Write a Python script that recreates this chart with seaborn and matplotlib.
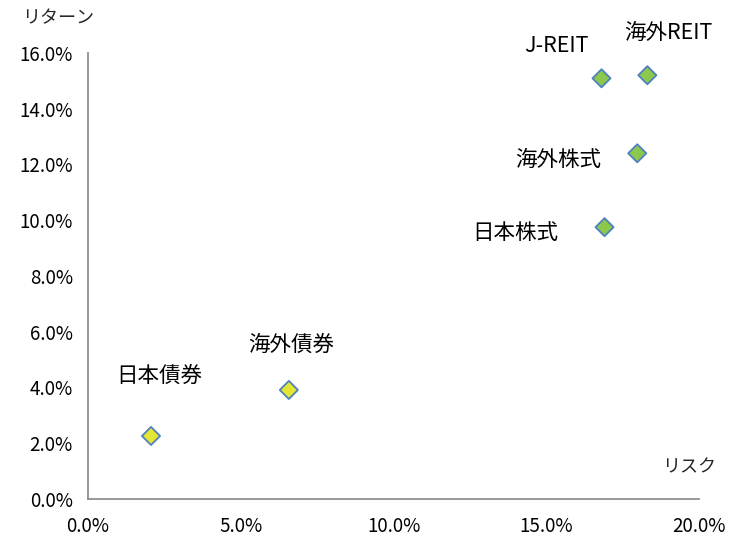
import matplotlib
matplotlib.use("Agg")
import matplotlib.pyplot as plt
import seaborn as sns
import pandas as pd
from matplotlib.ticker import FuncFormatter, MultipleLocator

assets = ["日本債券", "海外債券", "J-REIT", "海外REIT", "海外株式", "日本株式"]
risk = [2.06, 6.57, 16.8, 18.3, 17.97, 16.9]
ret = [2.26, 3.91, 15.09, 15.2, 12.4, 9.75]
kind = ["債券", "債券", "その他", "その他", "その他", "その他"]

df = pd.DataFrame({"asset": assets, "risk": risk, "ret": ret, "kind": kind})

sns.set_theme(style="white")
plt.rcParams["font.family"] = ["Noto Sans CJK JP", "DejaVu Sans"]

fig = plt.figure(figsize=(7.4, 5.4), dpi=100)
ax = fig.add_axes([0.119, 0.076, 0.826, 0.826])

sns.scatterplot(data=df, x="risk", y="ret", hue="kind",
                palette={"債券": "#E4E634", "その他": "#8CC84E"},
                marker="D", s=85, edgecolor="#4F81BD", linewidth=1.3,
                legend=False, ax=ax, zorder=3)

offsets = {
    "日本債券": (8, 60),
    "海外債券": (2, 45),
    "J-REIT": (-45, 32),
    "海外REIT": (21, 42),
    "海外株式": (-79, -7),
    "日本株式": (-89, -6),
}
for a, x, y in zip(assets, risk, ret):
    dx, dy = offsets[a]
    ax.annotate(a, (x, y), xytext=(dx, dy), textcoords="offset pixels",
                ha="center", va="center", fontsize=15.5, color="#000000")

ax.set_xlim(0, 20)
ax.set_ylim(0, 16)
ax.xaxis.set_major_locator(MultipleLocator(5))
ax.yaxis.set_major_locator(MultipleLocator(2))
ax.xaxis.set_major_formatter(FuncFormatter(lambda v, p: f"{v:.1f}%"))
ax.yaxis.set_major_formatter(FuncFormatter(lambda v, p: f"{v:.1f}%"))
ax.set_xlabel("")
ax.set_ylabel("")

for s in ["top", "right"]:
    ax.spines[s].set_visible(False)
for s in ["left", "bottom"]:
    ax.spines[s].set_color("#868686")
    ax.spines[s].set_linewidth(1.2)

ax.tick_params(axis="both", which="major", direction="out", length=5,
               width=1.2, color="#868686", labelsize=13.5, labelcolor="#000000")
ax.tick_params(axis="x", pad=7)
ax.tick_params(axis="y", pad=6)

fig.text(58 / 740, 1 - 18 / 540, "リターン", ha="center", va="center", fontsize=13)
fig.text(689 / 740, 1 - 467 / 540, "リスク", ha="center", va="center", fontsize=13)

fig.savefig("out.png", dpi=100)
